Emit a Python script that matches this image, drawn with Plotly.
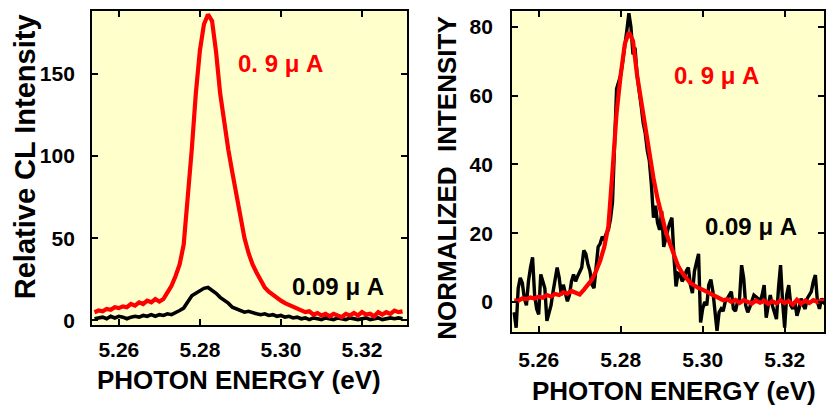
import plotly.graph_objects as go

# ---------------- data ----------------
ENERGY = [5.254, 5.255, 5.256, 5.257, 5.258, 5.259, 5.260, 5.261, 5.262, 5.263,
          5.264, 5.265, 5.266, 5.267, 5.268, 5.269, 5.270, 5.271, 5.272, 5.273,
          5.274, 5.275, 5.276, 5.277, 5.278, 5.279, 5.280, 5.281, 5.282, 5.283,
          5.284, 5.285, 5.286, 5.287, 5.288, 5.289, 5.290, 5.291, 5.292, 5.293,
          5.294, 5.295, 5.296, 5.297, 5.298, 5.299, 5.300, 5.301, 5.302, 5.303,
          5.304, 5.305, 5.306, 5.307, 5.308, 5.309, 5.310, 5.311, 5.312, 5.313,
          5.314, 5.315, 5.316, 5.317, 5.318, 5.319, 5.320, 5.321, 5.322, 5.323,
          5.324, 5.325, 5.326, 5.327, 5.328, 5.329, 5.330]

# Left panel: relative CL intensity
CL_09 = [5, 6, 5.5, 7, 6.5, 8, 7.5, 8.5, 8, 10,
         9, 11, 10, 12, 11, 13, 11.5, 13, 17, 21,
         27, 34, 46, 72, 104, 138, 164, 180, 186, 182,
         163, 138, 119, 104, 90, 77, 62, 50, 41, 34,
         29, 24, 20, 17.5, 15.5, 13.5, 12, 10.5, 9.5, 8.5,
         7, 6, 5, 5.5, 3.5, 4.5, 3, 4, 2.5, 4,
         3, 2, 4, 3, 4.5, 3, 5, 3.5, 4, 2.5,
         5, 3.5, 5, 4, 6, 5, 5.5]

CL_009 = [1, 1.5, 2, 1, 2.5, 1.5, 2.5, 2, 1, 2,
          2.5, 2, 3, 2.5, 3.5, 2.5, 3.5, 3, 4, 3.5,
          4.5, 6, 7.5, 11, 15, 16.5, 18, 19.5, 20, 18.5,
          16.5, 14, 12.5, 10.5, 8, 7, 6, 5, 5.5, 4.5,
          4, 3.5, 4, 3, 3.5, 2.5, 3, 2, 2.5, 1.5,
          2, 1, 1.5, 0.5, 1.5, 1, 0.5, 1.5, 1, 0.5,
          1.5, 1, 0.5, 1.5, 1, 0.5, 1, 1.5, 0.5, 1,
          1.5, 0.5, 1, 1.5, 1, 1.5, 1]

# Right panel: normalized intensity
NORM_09 = [0.5, 0.3, 1, 0.8, 1.3, 1, 1.5, 1.2, 2, 1.6,
           2.3, 2, 2.8, 2.4, 3.2, 2.8, 2.2, 3.5, 4.8, 6.5,
           9, 12, 16, 22, 38, 55, 66, 75, 78.5, 76,
           66, 58, 50, 43, 36, 30, 25, 20.5, 17, 14,
           10.5, 8.5, 7, 5.5, 4.8, 4, 3.6, 3, 2.2, 1.6,
           1.1, 0.5, 0.8, 0, 0.6, -0.3, 0.5, 0, -0.5, 0.4,
           -0.2, 0.3, -0.6, 0.2, -0.4, 0.5, -0.3, 0.3, -0.8, 0.6,
           -0.5, 0.4, -0.3, 0.5, 0, 0.4, 0.2]

ENERGY_FINE = [5.2540, 5.2545, 5.2550, 5.2555, 5.2560, 5.2565, 5.2570, 5.2575, 5.2580, 5.2585,
               5.2590, 5.2595, 5.2600, 5.2605, 5.2610, 5.2615, 5.2620, 5.2625, 5.2630, 5.2635,
               5.2640, 5.2645, 5.2650, 5.2655, 5.2660, 5.2665, 5.2670, 5.2675, 5.2680, 5.2685,
               5.2690, 5.2695, 5.2700, 5.2705, 5.2710, 5.2715, 5.2720, 5.2725, 5.2730, 5.2735,
               5.2740, 5.2745, 5.2750, 5.2755, 5.2760, 5.2765, 5.2770, 5.2775, 5.2780, 5.2785,
               5.2790, 5.2795, 5.2800, 5.2805, 5.2810, 5.2815, 5.2820, 5.2825, 5.2830, 5.2835,
               5.2840, 5.2845, 5.2850, 5.2855, 5.2860, 5.2865, 5.2870, 5.2875, 5.2880, 5.2885,
               5.2890, 5.2895, 5.2900, 5.2905, 5.2910, 5.2915, 5.2920, 5.2925, 5.2930, 5.2935,
               5.2940, 5.2945, 5.2950, 5.2955, 5.2960, 5.2965, 5.2970, 5.2975, 5.2980, 5.2985,
               5.2990, 5.2995, 5.3000, 5.3005, 5.3010, 5.3015, 5.3020, 5.3025, 5.3030, 5.3035,
               5.3040, 5.3045, 5.3050, 5.3055, 5.3060, 5.3065, 5.3070, 5.3075, 5.3080, 5.3085,
               5.3090, 5.3095, 5.3100, 5.3105, 5.3110, 5.3115, 5.3120, 5.3125, 5.3130, 5.3135,
               5.3140, 5.3145, 5.3150, 5.3155, 5.3160, 5.3165, 5.3170, 5.3175, 5.3180, 5.3185,
               5.3190, 5.3195, 5.3200, 5.3205, 5.3210, 5.3215, 5.3220, 5.3225, 5.3230, 5.3235,
               5.3240, 5.3245, 5.3250, 5.3255, 5.3260, 5.3265, 5.3270, 5.3275, 5.3280, 5.3285,
               5.3290, 5.3295, 5.3300]

NORM_009 = [-3, -7.5, 4, 7, 5.5, 1, -1, 6, 10, 13,
            2, -2, -3.6, 8, 6, 4, -5.5, -3, -1, 3,
            6, 10, 7, 2, 5, 3, 0.2, 2, 6, 8,
            6, 7.5, 9, 10, 15, 14, 11, 9, 5, 4,
            10, 16, 17, 19, 18, 20, 21, 24, 29, 45,
            62, 64, 66, 70, 74, 79, 84, 80, 72, 74,
            66, 62, 57, 52, 49, 44, 41, 34, 24.5, 28,
            23, 21, 26.4, 16, 19, 21, 23, 24.5, 13, 4.5,
            8.3, 8, 6, 7, 9, 10, 5, 2.6, 9, 12,
            14, -6, -2, 0, -1, 5, 6.5, 3, -2, -8.4,
            -3, -2, -2.7, 0, 1, 2, 3, -2, -2.7, 0,
            1, 10.7, 7, -1, -3, -1.5, 0, 2, 1.5, 1,
            0, 2, 4.9, -4.6, -1, 2, -1, -3, -5, 4,
            10.7, 0, -7.5, 2, 4.9, -1, -2, 0, -4, -2,
            1, -1, -2, 1, 2, 3, 6, 7.8, 0, -2,
            1, 0, 1]

X_TICKS = [5.26, 5.28, 5.30, 5.32]
X_TICK_TEXT = ["5.26", "5.28", "5.30", "5.32"]
Y1_TICKS = [0, 50, 100, 150]
Y2_TICKS = [0, 20, 40, 60, 80]

LABEL_HI = "0. 9 μ A"
LABEL_LO = "0.09 μ A"

# ---------------- figure ----------------
W, H = 826, 407
FONT = "Liberation Sans, Arial, sans-serif"
RED = "#FF0000"
BG = "#FFFFCC"

def px_x(p):
    return p / W

def px_y(p):
    return 1 - p / H

fig = go.Figure()
fig.add_trace(go.Scatter(x=ENERGY, y=CL_009, mode="lines",
                         line=dict(color="black", width=3.6), xaxis="x", yaxis="y"))
fig.add_trace(go.Scatter(x=ENERGY, y=CL_09, mode="lines",
                         line=dict(color=RED, width=4.2), xaxis="x", yaxis="y"))
fig.add_trace(go.Scatter(x=ENERGY_FINE, y=NORM_009, mode="lines",
                         line=dict(color="black", width=3.4), xaxis="x2", yaxis="y2"))
fig.add_trace(go.Scatter(x=ENERGY, y=NORM_09, mode="lines",
                         line=dict(color=RED, width=4.2), xaxis="x2", yaxis="y2"))

tickfont = dict(family=FONT, size=21, color="black", weight="bold")
axis_common = dict(showline=True, linecolor="black", linewidth=2, mirror="ticks",
                   ticks="inside", ticklen=6, tickwidth=2, tickcolor="black",
                   showgrid=False, zeroline=False, tickfont=tickfont, fixedrange=True)

fig.update_layout(
    width=W, height=H,
    margin=dict(l=0, r=0, t=0, b=0),
    paper_bgcolor="white",
    plot_bgcolor=BG,
    showlegend=False,
    xaxis=dict(domain=[px_x(92.3), px_x(408)], range=[5.2534, 5.3311], anchor="y",
               tickvals=X_TICKS, ticktext=X_TICK_TEXT, ticklabelstandoff=5, **axis_common),
    yaxis=dict(domain=[px_y(330.7), px_y(11)], range=[-2.8, 188.2], anchor="x",
               tickvals=Y1_TICKS, ticklabelstandoff=11, **axis_common),
    xaxis2=dict(domain=[px_x(513.3), 1.0], range=[5.2535, 5.3296], anchor="y2",
                tickvals=X_TICKS, ticktext=X_TICK_TEXT, ticklabelstandoff=8, **axis_common),
    yaxis2=dict(domain=[px_y(338), px_y(11.7)], range=[-8.8, 84.5], anchor="x2",
                tickvals=Y2_TICKS, ticklabelstandoff=13, **axis_common),
)

def ann(text, cx, cy, size, color="black", angle=0):
    fig.add_annotation(text=text, x=px_x(cx), y=px_y(cy), xref="paper", yref="paper",
                       xanchor="center", yanchor="middle", showarrow=False, textangle=angle,
                       borderpad=0,
                       font=dict(family=FONT, size=size, color=color, weight="bold"))

# axis titles
ann("PHOTON ENERGY (eV)", 240, 387, 26)
ann("PHOTON ENERGY (eV)", 676, 398, 26)
ann("Relative CL Intensity", 25, 159, 29, angle=-90)
ann("NORMALIZED  INTENSITY", 448, 181, 26, angle=-90)

# curve labels
ann(LABEL_HI, 281.5, 65, 24, color=RED)
ann(LABEL_LO, 338.5, 292, 24)
ann(LABEL_HI, 718, 77, 24, color=RED)
ann(LABEL_LO, 752.5, 230, 24)

fig.write_html("out.html")
